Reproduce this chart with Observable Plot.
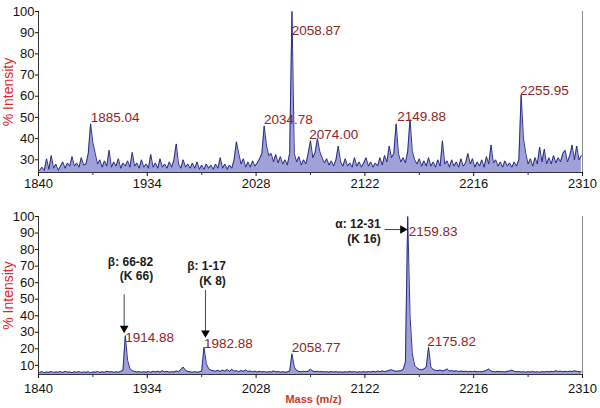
<!DOCTYPE html>
<html><head><meta charset="utf-8">
<script src="https://cdn.jsdelivr.net/npm/d3@7"></script>
<script src="https://cdn.jsdelivr.net/npm/@observablehq/plot@0.6"></script>
<style>
body{margin:0;background:#fff;}
#chart{width:600px;height:408px;}
#chart svg{display:block;}
</style>
</head><body><div id="chart"></div>
<script>
// ---- data ----
const massStart = 1841, massStep = 2;           // sampling grid of the spectra (m/z)
const massDomain = [1840, 2310];
const xTicks = [1840, 1934, 2028, 2122, 2216, 2310];
const xMinorTicks = [1887, 1981, 2075, 2169, 2263];
const topYTicks = [30, 40, 50, 60, 70, 80, 90, 100];
const bottomYTicks = [10, 20, 30, 40, 50, 60, 70, 80, 90, 100];

const topIntensity = [
  25, 26.5, 25, 30.5, 25.5, 32, 26, 28, 25, 27,            // 1841-1859
  29, 26, 28.5, 27, 31.5, 27, 28.5, 26.5, 31, 27.5,        // 1861-1879
  28, 33, 47, 38, 33, 28, 30, 26.5, 29.5, 27,              // 1881-1899
  34.5, 26.5, 29, 27, 30.5, 26, 28.5, 27, 29.5, 26.5,      // 1901-1919
  33.5, 27, 28.5, 26, 30, 26.5, 28, 26, 32.5, 26.5,        // 1921-1939
  28.5, 26, 30.5, 26.5, 28, 26, 29, 26.5, 30, 37.5,        // 1941-1959
  28, 26, 30, 26.5, 28, 26, 28.5, 26, 29, 25.5,            // 1961-1979
  27.5, 25.5, 28, 26, 27.5, 25.5, 28, 26, 31, 26,          // 1981-1999
  28, 25.5, 27.5, 26, 30, 38.5, 33, 28, 30.5, 26.5,        // 2001-2019
  29, 26.5, 29.5, 27, 28.5, 30.5, 33, 46, 36.5, 32,        // 2021-2039
  33, 29, 32.5, 28.5, 31.5, 28, 30, 27.5, 33, 100,         // 2041-2059
  33, 29, 31.5, 27.5, 30, 28, 33, 39, 31, 33.5,            // 2061-2079
  40, 34, 31, 28.5, 30.5, 27.5, 29.5, 27, 30, 36.5,        // 2081-2099
  29, 27, 30.5, 27, 28.5, 26.5, 31, 27, 29, 26.5,          // 2101-2119
  28.5, 31, 27, 29, 26.5, 28.5, 27, 31, 27.5, 32,          // 2121-2139
  29, 36.5, 31, 33, 47, 33, 29, 31, 28.5, 34,              // 2141-2159
  49, 34, 30, 28, 30.5, 27, 29.5, 27, 31, 27,              // 2161-2179
  29, 26.5, 30, 27, 39, 28, 29.5, 26.5, 30, 27,            // 2181-2199
  29, 26.5, 30.5, 27, 28.5, 33, 28, 30.5, 26.5, 29,        // 2201-2219
  27, 30, 26.5, 31.5, 28, 37, 28.5, 30, 27, 29,            // 2221-2239
  26.5, 29.5, 27, 28.5, 26.5, 29, 27, 30, 60.5, 40,        // 2241-2259
  33, 28, 30.5, 27, 31, 28, 36, 29, 35, 28,                // 2261-2279
  31, 28, 32, 28.5, 31, 29, 33, 34.5, 29, 32,              // 2281-2299
  37, 30, 36.5, 30, 32                                     // 2301-2309
];

const bottomIntensity = [
  5.8, 6.2, 5.6, 6, 5.8, 6.3, 5.7, 6, 5.9, 6.2,            // 1841-1859
  5.7, 6.4, 5.9, 6, 5.6, 6.1, 5.8, 6.2, 5.7, 6,            // 1861-1879
  5.8, 6.1, 5.6, 6, 5.9, 6.3, 5.7, 6.1, 5.8, 6.5,          // 1881-1899
  6, 6.2, 5.8, 6.1, 5.9, 6.3, 7, 28, 13, 8,                // 1901-1919
  6.8, 6.3, 6, 6.2, 5.8, 6.1, 5.9, 6.3, 5.8, 6.4,          // 1921-1939
  6, 6.5, 5.9, 6.8, 6, 6.4, 5.9, 6.2, 6, 6.6,              // 1941-1959
  6.2, 7.5, 9, 7, 6.3, 6.1, 5.9, 6.2, 5.8, 6.1,            // 1961-1979
  6.5, 21, 11, 8, 7, 6.8, 6.4, 7, 6.3, 7.2,                // 1981-1999
  6.5, 7.5, 6.4, 7.6, 6.5, 6.8, 6.2, 6.9, 6.4, 7.2,        // 2001-2019
  6.3, 6.6, 6.1, 6.5, 6, 6.4, 6, 6.3, 5.9, 6.2,            // 2021-2039
  6, 6.6, 6.1, 6.3, 5.9, 6.2, 5.8, 6.1, 6.5, 17,           // 2041-2059
  9, 7, 6.3, 6.1, 6.4, 6.2, 6.5, 7.6, 6.6, 6.2,            // 2061-2079
  6.4, 6.1, 6.3, 6, 6.2, 5.9, 6.3, 6, 6.2, 5.9,            // 2081-2099
  6.1, 5.8, 6.2, 5.9, 6.3, 6, 6.2, 5.8, 6.1, 5.9,          // 2101-2119
  6.2, 5.9, 6.3, 6, 6.4, 6.1, 6.5, 6.2, 6.6, 6.3,          // 2121-2139
  6.5, 7, 7.4, 6.8, 6.4, 6.6, 6.8, 7.5, 12, 100,           // 2141-2159
  40, 17, 10, 8.5, 7.6, 7.4, 7.8, 9, 21, 9,                // 2161-2179
  7.5, 7, 6.8, 7.2, 6.6, 7, 7.9, 6.6, 6.9, 6.4,            // 2181-2199
  6.7, 6.3, 6.6, 6.2, 6.5, 6.1, 6.4, 6.2, 6.5, 6.1,        // 2201-2219
  6.3, 6.1, 6.5, 7, 7.8, 6.5, 6.3, 6.1, 6.4, 6.2,          // 2221-2239
  6.2, 6, 6.4, 6.6, 7.2, 6.4, 6.1, 6.3, 6, 6.2,            // 2241-2259
  5.9, 6.2, 6, 6.3, 5.9, 6.1, 5.8, 6.2, 6, 6.3,            // 2261-2279
  6.1, 6.4, 6.2, 6.8, 6.3, 6.5, 6.1, 6.4, 6.2, 6.5,        // 2281-2299
  6.3, 6.7, 6.4, 6.2, 6.1                                  // 2301-2309
];

const topPeakMass = [1885.04, 2034.78, 2058.87, 2074.00, 2149.88, 2255.95];
const topPeakLabelLevel = [47.7, 47.0, 88.7, 39.9, 48.1, 60.7];
const bottomPeakMass = [1914.88, 1982.88, 2058.77, 2159.83, 2175.82];
const bottomPeakLabelLevel = [24.0, 20.6, 18.0, 88.5, 22.0];

const calloutText = ["β: 66-82\n(K 66)", "β: 1-17\n(K 8)", "α: 12-31\n(K 16)"];
const calloutPeakIndex = [0, 1, 3];

// ---- layout / style ----
const FONT = "'Liberation Sans', Arial, Helvetica, sans-serif";
const W = 600, ML = 38, MR = 18;
const navy = "#1b1b7c", lavender = "#8a8ad0";
const peakLabelColor = "#8e2424";
const yLabelColor = "#e3262b";

const spectrum = (arr) => arr.map((v, i) => ({mass: massStart + i * massStep, intensity: v}));
const peaks = (masses, levels) => masses.map((m, i) => ({mass: m, level: levels[i], label: m.toFixed(2)}));

function panel({data, yDomain, yTicks, height, marginTop, marginBottom, tickPad, labels, extra = []}) {
  const yMin = yDomain[0];
  return Plot.plot({
    width: W, height, marginLeft: ML, marginRight: MR, marginTop, marginBottom,
    style: {fontFamily: FONT, fontSize: "13px", color: "#111", background: "white", overflow: "visible"},
    x: {domain: massDomain, axis: null},
    y: {domain: yDomain, axis: null},
    marks: [
      Plot.areaY(data, {x: "mass", y1: yMin, y2: "intensity", fill: lavender, fillOpacity: 0.8, clip: true}),
      Plot.lineY(data, {x: "mass", y: "intensity", stroke: navy, strokeWidth: 0.9, clip: true}),
      Plot.ruleX([massDomain[1]], {stroke: "#8a8a8a", strokeWidth: 1}),
      Plot.ruleX([massDomain[0]], {stroke: "#333", strokeWidth: 1}),
      Plot.ruleY([yMin], {stroke: "#333", strokeWidth: 1}),
      Plot.axisY({ticks: yTicks, tickSize: 3, tickPadding: 1, label: null, fontSize: 13, tickFormat: d => String(d)}),
      Plot.axisX({ticks: xTicks, tickSize: 4, tickPadding: tickPad, label: null, fontSize: 13, tickFormat: d => String(d)}),
      Plot.ruleX(xMinorTicks, {y1: yMin, y2: yMin, insetBottom: -3, insetTop: 0, stroke: "#333"}),
      Plot.text(["% Intensity"], {frameAnchor: "left", rotate: -90, dx: -30, text: d => d, fill: yLabelColor, fontSize: 14, textAnchor: "middle", lineAnchor: "middle"}),
      Plot.text(labels, {x: "mass", y: "level", text: "label", textAnchor: "start", lineAnchor: "bottom", fill: peakLabelColor, fontSize: 13.5}),
      ...extra
    ]
  });
}

// top panel
const topSvg = panel({
  data: spectrum(topIntensity), yDomain: [24, 100], yTicks: topYTicks,
  height: 200, marginTop: 11, marginBottom: 28, tickPad: 2,
  labels: peaks(topPeakMass, topPeakLabelLevel)
});

// bottom panel with callouts
const bDomain = [4.5, 100], bHeight = 208, bTop = 16, bBottom = 34;
const sx = d3.scaleLinear(massDomain, [ML, W - MR]);
const sy = d3.scaleLinear(bDomain, [bHeight - bBottom, bTop]);
// pixel offsets of each callout relative to its peak label anchor
const calloutGeom = [
  {tdx: 28, tdy: -62, a1: [-1, -48], a2: [-1, -14], rot: 180},
  {tdx: 22, tdy: -63, a1: [1.6, -58], a2: [1.6, -15], rot: 180},
  {tdx: -28, tdy: 7, a1: [-24, -6], a2: [-6, -6], rot: 90}
];
const bottomLabels = peaks(bottomPeakMass, bottomPeakLabelLevel);
const callouts = calloutText.map((t, i) => {
  const p = bottomLabels[calloutPeakIndex[i]], g = calloutGeom[i];
  const px = sx(p.mass), py = sy(p.level);
  return {
    text: t,
    tx: sx.invert(px + g.tdx), ty: sy.invert(py + g.tdy),
    x1: sx.invert(px + g.a1[0]), y1: sy.invert(py + g.a1[1]),
    x2: sx.invert(px + g.a2[0]), y2: sy.invert(py + g.a2[1]),
    rot: g.rot
  };
});

const bottomSvg = panel({
  data: spectrum(bottomIntensity), yDomain: bDomain, yTicks: bottomYTicks,
  height: bHeight, marginTop: bTop, marginBottom: bBottom, tickPad: 5,
  labels: bottomLabels,
  extra: [
    Plot.link(callouts, {x1: "x1", y1: "y1", x2: "x2", y2: "y2", stroke: "#444", strokeWidth: 1}),
    Plot.dot(callouts, {x: "x2", y: "y2", symbol: "triangle", r: 3.2, fill: "#000", stroke: "none", rotate: "rot"}),
    Plot.text(callouts, {x: "tx", y: "ty", text: "text", textAnchor: "end", lineAnchor: "bottom", lineHeight: 1.2, fontWeight: "bold", fontSize: 12, fill: "#1a1a1a"}),
    Plot.text(["Mass (m/z)"], {frameAnchor: "bottom", dx: 3, dy: 25, text: d => d, lineAnchor: "middle", fontWeight: "bold", fontSize: 11, fill: "#c8392e"})
  ]
});

const root = document.getElementById("chart");
root.append(topSvg, bottomSvg);
</script>
</body></html>
